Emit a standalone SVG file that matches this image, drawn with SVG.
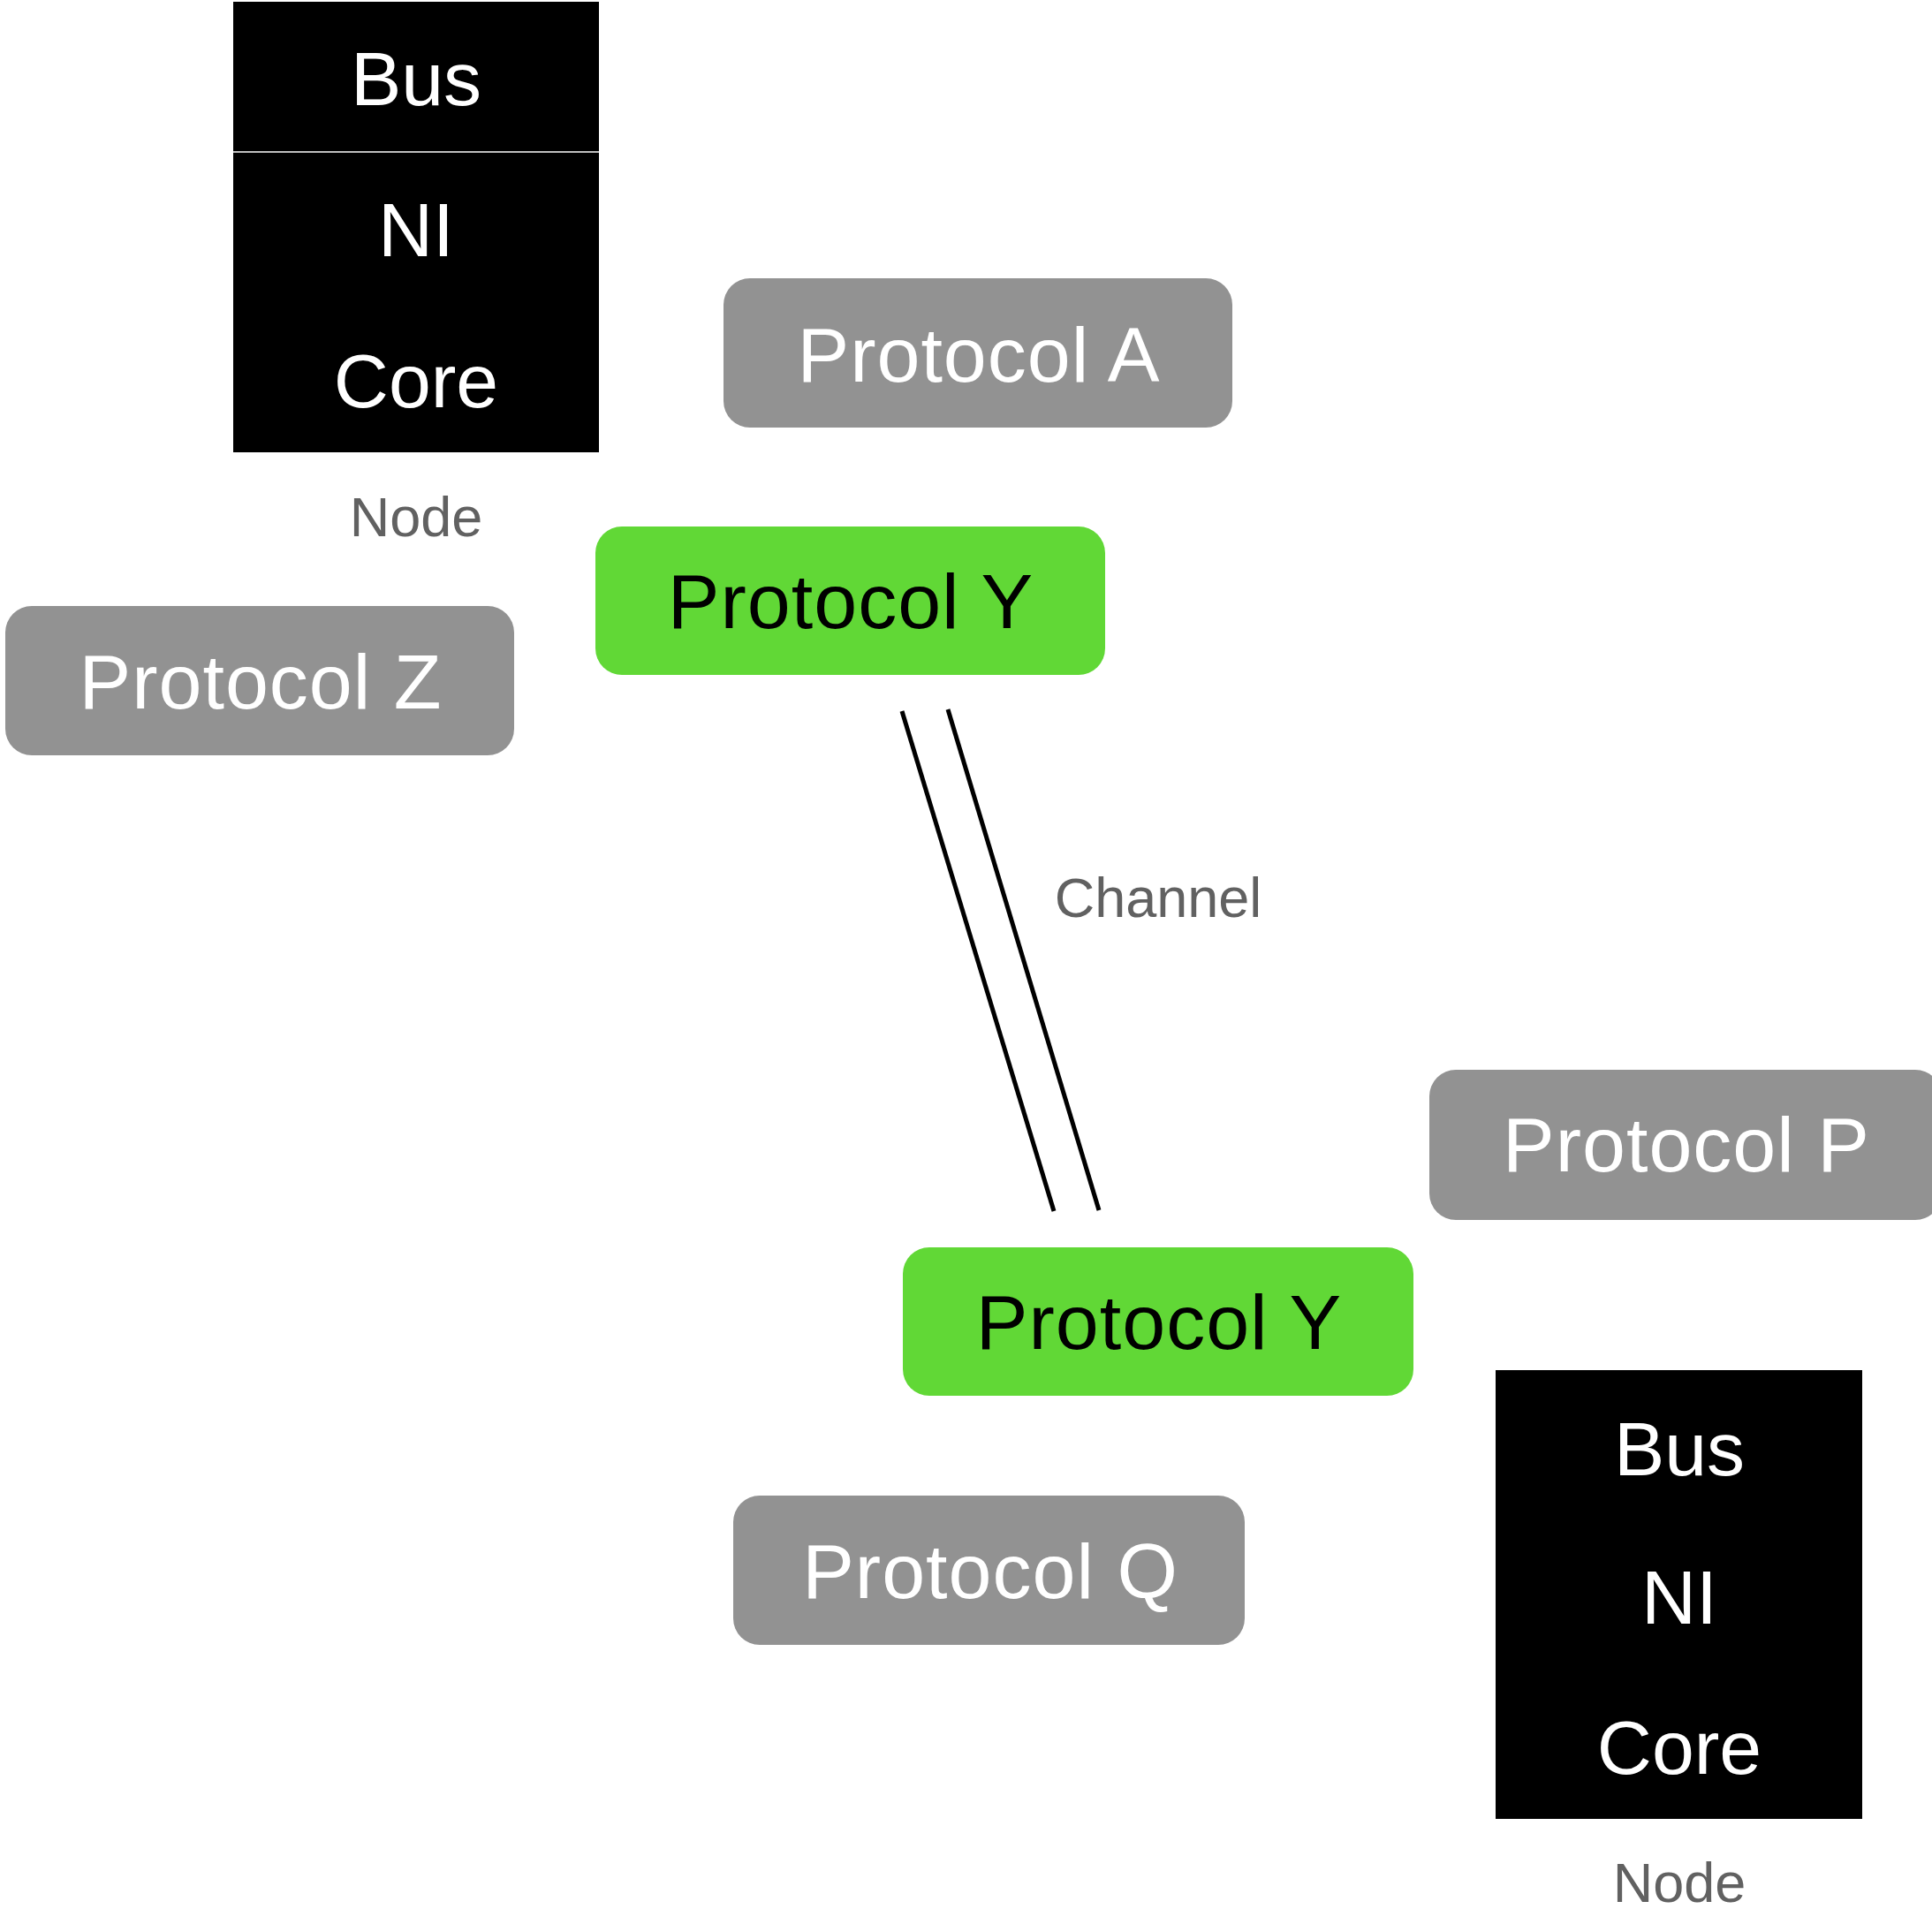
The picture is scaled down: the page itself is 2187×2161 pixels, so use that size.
<svg xmlns="http://www.w3.org/2000/svg" width="2187" height="2161" viewBox="0 0 2187 2161">
<style>
text{font-family:"Liberation Sans",Arial,Helvetica,sans-serif;text-anchor:middle}
.gray{fill:#929292}
.green{fill:#61d836}
.blk{fill:#000}
.wt{fill:#fff;font-size:86px}
.pt{font-size:88px;letter-spacing:1px}
.w{fill:#fff}
.b{fill:#000}
.lbl{fill:#616161;font-size:63px}
.ch{stroke:#000;stroke-width:5;fill:none}
</style>
<rect width="2187" height="2161" fill="#fff"/>
<g id="node-top">
<rect class="blk" x="264" y="2" width="414" height="510"/>
<line x1="264" y1="172" x2="678" y2="172" stroke="#fff" stroke-width="1.5"/>
<text class="wt" x="471" y="119">Bus</text>
<text class="wt" x="471" y="290">NI</text>
<text class="wt" x="471" y="461">Core</text>
<text class="lbl" x="471" y="607">Node</text>
</g>
<g id="protocol-a">
<rect class="gray" x="819" y="315" width="576" height="169" rx="30"/>
<text class="pt w" x="1108" y="432">Protocol A</text>
</g>
<g id="protocol-y-top">
<rect class="green" x="674" y="596" width="577" height="168" rx="30"/>
<text class="pt b" x="963" y="711">Protocol Y</text>
</g>
<g id="protocol-z">
<rect class="gray" x="6" y="686" width="576" height="169" rx="30"/>
<text class="pt w" x="295" y="802">Protocol Z</text>
</g>
<g id="protocol-p">
<rect class="gray" x="1618" y="1211" width="580" height="170" rx="30"/>
<text class="pt w" x="1909" y="1326">Protocol P</text>
</g>
<g id="protocol-y-bottom">
<rect class="green" x="1022" y="1412" width="578" height="168" rx="30"/>
<text class="pt b" x="1312" y="1527">Protocol Y</text>
</g>
<g id="protocol-q">
<rect class="gray" x="830" y="1693" width="579" height="169" rx="30"/>
<text class="pt w" x="1121" y="1809">Protocol Q</text>
</g>
<g id="node-bottom">
<rect class="blk" x="1693" y="1551" width="415" height="508"/>
<text class="wt" x="1901" y="1670">Bus</text>
<text class="wt" x="1901" y="1838">NI</text>
<text class="wt" x="1901" y="2008">Core</text>
<text class="lbl" x="1901" y="2153">Node</text>
</g>
<g id="connectors">
<line class="ch" x1="1021" y1="805" x2="1193" y2="1371"/>
<line class="ch" x1="1073" y1="803" x2="1244" y2="1370"/>
<text class="lbl" x="1311" y="1038">Channel</text>
</g>
</svg>
